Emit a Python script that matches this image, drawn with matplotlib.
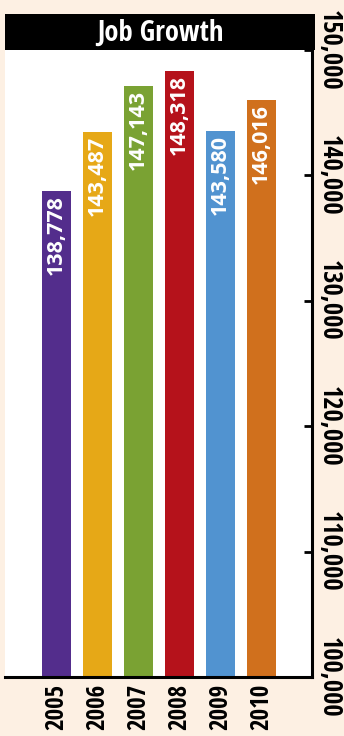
import matplotlib
matplotlib.use("Agg")
import matplotlib.pyplot as plt
from matplotlib.patches import Rectangle

years = ["2005", "2006", "2007", "2008", "2009", "2010"]
jobs = [138778, 143487, 147143, 148318, 143580, 146016]
bar_colors = ["#532d8c", "#e6a817", "#7aa233", "#b5121b", "#5193d0", "#d0701d"]
yticks = [100000, 110000, 120000, 130000, 140000, 150000]
title = "Job Growth"

BG = "#fdf0e3"
W, H = 344, 736
fig = plt.figure(figsize=(W / 100, H / 100), dpi=100, facecolor=BG)

narrow = ["Open Sans Condensed", "Liberation Sans Narrow", "DejaVu Sans"]
wide = ["Open Sans", "DejaVu Sans"]

ax_l, ax_r, ax_t, ax_b = 5, 312, 50, 677
ax = fig.add_axes([ax_l / W, (H - ax_b) / H, (ax_r - ax_l) / W, (ax_b - ax_t) / H])
ax.set_facecolor("white")

x = list(range(len(years)))
ax.bar(x, jobs, width=0.707, color=bar_colors, zorder=2)
ax.set_xlim(-1.256, 6.23)
ax.set_ylim(100000, 150000)

for xi, v in zip(x, jobs):
    ax.annotate(f"{v:,}", (xi, v), xytext=(0, -3), textcoords="offset points",
                rotation=90, ha="center", va="top", color="white",
                fontsize=15.5, fontweight="bold", family=wide, zorder=3)

for s in ["left", "top"]:
    ax.spines[s].set_visible(False)
ax.spines["right"].set_linewidth(2.2)
ax.spines["bottom"].set_linewidth(2.2)
ax.yaxis.tick_right()
ax.set_yticks(yticks)
ax.set_yticklabels([f"{t:,}" for t in yticks], rotation=270, va="center", ha="left",
                   fontsize=19, fontweight="bold", family=narrow)
ax.tick_params(axis="y", direction="in", length=6, width=2, pad=3)
ax.set_xticks(x)
ax.set_xticklabels(years, rotation=90, fontsize=18, fontweight="bold", family=narrow)
ax.tick_params(axis="x", length=0, pad=5)

# title bar
fig.patches.append(Rectangle((5 / W, (H - 50) / H), (315 - 5) / W, 36 / H,
                             transform=fig.transFigure, facecolor="black",
                             edgecolor="none", zorder=5))
fig.text(160 / W, (H - 33) / H, title, color="white", fontsize=20.5, fontweight="bold",
         family=narrow, ha="center", va="center", zorder=6)

fig.savefig("out.png", dpi=100, facecolor=BG)
